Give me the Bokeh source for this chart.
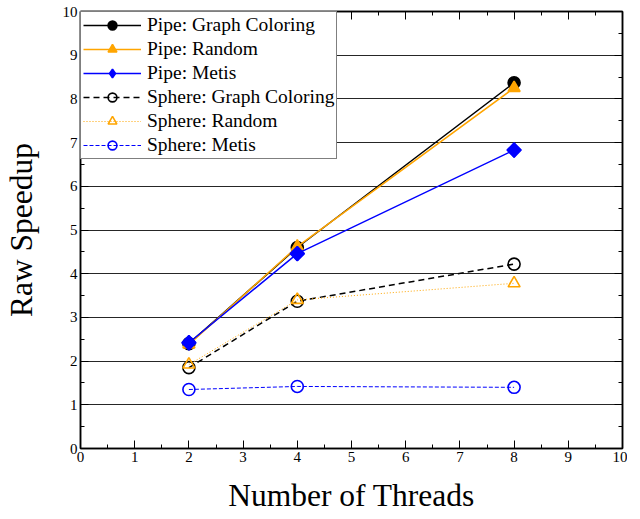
import math
from bokeh.plotting import figure
from bokeh.models import Legend, LegendItem, LinearAxis, Range1d, SingleIntervalTicker
from bokeh.embed import file_html
from bokeh.resources import INLINE

threads = [2, 4, 8]
pipe_gc = [2.40, 4.60, 8.37]
pipe_random = [2.38, 4.62, 8.25]
pipe_metis = [2.42, 4.46, 6.83]
sphere_gc = [1.85, 3.37, 4.22]
sphere_random = [1.92, 3.40, 3.78]
sphere_metis = [1.35, 1.42, 1.40]

FONT = "Liberation Serif"
ORANGE = "#FFA500"
BLUE = "#0000FF"

p = figure(width=627, height=515, output_backend="svg", toolbar_location=None,
           x_range=Range1d(0, 10), y_range=Range1d(0, 10),
           min_border_left=74, min_border_right=5, min_border_top=11, min_border_bottom=10)
p.outline_line_color = "black"
p.outline_line_width = 1.5
p.xgrid.visible = False
p.ygrid.grid_line_color = "black"
p.ygrid.grid_line_alpha = 0.85
p.ygrid.ticker = SingleIntervalTicker(interval=1)

def style_axis(ax, labels=True):
    ax.ticker = SingleIntervalTicker(interval=1, num_minor_ticks=2)
    ax.major_tick_in = 8
    ax.major_tick_out = 0
    ax.minor_tick_in = 4
    ax.minor_tick_out = 0
    ax.axis_line_color = "black"
    ax.axis_line_width = 1.5
    ax.major_tick_line_color = "black"
    ax.minor_tick_line_color = "black"
    ax.major_label_text_font = FONT
    ax.major_label_text_color = "black"
    if labels:
        ax.major_label_text_font_size = "15px"
        ax.major_label_standoff = 3
    else:
        ax.major_label_text_alpha = 0
        ax.major_label_text_font_size = "1px"
        ax.major_label_standoff = 0

style_axis(p.xaxis[0])
style_axis(p.yaxis[0])
p.xaxis.axis_label = "Number of Threads"
p.yaxis.axis_label = "Raw Speedup"
for ax in (p.xaxis[0], p.yaxis[0]):
    ax.axis_label_text_font = FONT
    ax.axis_label_text_font_size = "31.5px"
    ax.axis_label_text_font_style = "normal"
    ax.axis_label_text_color = "black"
p.xaxis.axis_label_standoff = 13
p.yaxis.axis_label_standoff = 21

rax = LinearAxis()
style_axis(rax, labels=False)
p.add_layout(rax, "right")
tax = LinearAxis()
style_axis(tax, labels=False)
p.add_layout(tax, "above")

items = []
def series(label, ys, color, marker, fill, dash, lw, size):
    l = p.line(threads, ys, line_color=color, line_width=lw, line_dash=dash)
    if marker == "diamond":
        # rotated square in the plot; a diamond on top of it stands for it in the legend
        p.scatter(threads, ys, marker="square", size=10, angle=math.pi / 4,
                  line_color=color, fill_color=color, line_width=1.6)
    s = p.scatter(threads, ys, marker=marker, size=size, line_color=color,
                  fill_color=(color if fill else "white"), fill_alpha=(1 if fill else 0),
                  line_width=1.6)
    items.append(LegendItem(label=label, renderers=[l, s]))

series("Pipe: Graph Coloring", pipe_gc, "black", "circle", True, "solid", 1.5, 12)
series("Pipe: Random", pipe_random, ORANGE, "triangle", True, "solid", 1.5, 12)
series("Pipe: Metis", pipe_metis, BLUE, "diamond", True, "solid", 1.5, 14)
series("Sphere: Graph Coloring", sphere_gc, "black", "circle", False, "6 4", 1.5, 12)
series("Sphere: Random", sphere_random, ORANGE, "triangle", False, "1 2", 1.0, 12)
series("Sphere: Metis", sphere_metis, BLUE, "circle", False, "4 2", 1.0, 12)

legend = Legend(items=items, location="top_left",
                label_text_font=FONT, label_text_font_size="19.5px",
                label_text_color="black")
legend.margin = 0
legend.padding = 2
legend.spacing = 2
legend.glyph_width = 58
legend.glyph_height = 22
legend.label_height = 22
legend.label_standoff = 6
legend.border_line_color = "black"
legend.border_line_width = 1.5
legend.background_fill_alpha = 1
p.add_layout(legend)

open("out.html", "w").write(file_html(p, INLINE))
